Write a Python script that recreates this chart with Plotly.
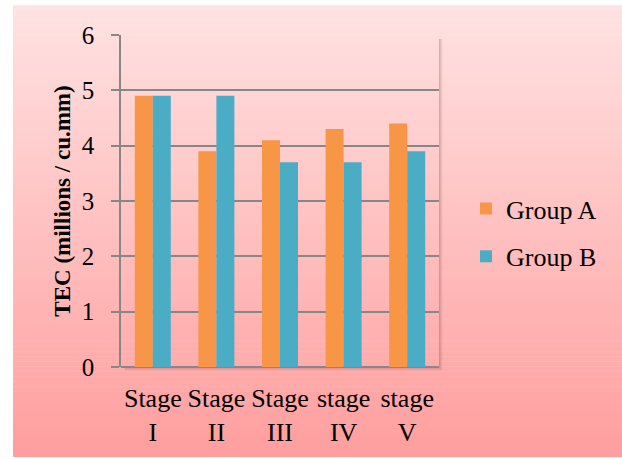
import plotly.graph_objects as go

# Chart data
stages = ["Stage<br>I", "Stage<br>II", "Stage<br>III", "stage<br>IV", "stage<br>V"]
group_a = [4.9, 3.9, 4.1, 4.3, 4.4]
group_b = [4.9, 4.9, 3.7, 3.7, 3.9]
y_ticks = [0, 1, 2, 3, 4, 5, 6]

W, H = 622, 459
# plot area in pixels
PL, PR, PT, PB = 121, 439, 35, 369

def px_x(x):
    return (x - PL) / (PR - PL)

def px_y(y):
    return (PB - y) / (PB - PT)

FONT = "Liberation Serif"
GRID = "#878787"

fig = go.Figure()
fig.add_trace(go.Bar(name="Group A", x=stages, y=group_a,
                     marker=dict(color="#F79646", line=dict(width=0)),
                     legendgroup="a"))
fig.add_trace(go.Bar(name="Group B", x=stages, y=group_b,
                     marker=dict(color="#4BACC6", line=dict(width=0)),
                     legendgroup="b"))

# pink vertical gradient behind the chart
shapes = []
fx0, fx1, fy0, fy1 = 13, W, 5, H
n = 90
top = (255, 226, 226)
bot = (255, 158, 158)
for i in range(n):
    t = i / (n - 1)
    c = tuple(round(top[k] + (bot[k] - top[k]) * t) for k in range(3))
    ya = fy0 + (fy1 - fy0) * i / n
    yb = fy0 + (fy1 - fy0) * (i + 1) / n + 0.6
    shapes.append(dict(type="rect", xref="paper", yref="paper", layer="below",
                       x0=px_x(fx0), x1=px_x(fx1), y0=px_y(yb), y1=px_y(ya),
                       fillcolor="rgb(%d,%d,%d)" % c, line=dict(width=0)))

# soft shadow along the right and bottom of the plot area
for off, a in [(1, 0.10), (2, 0.08), (3, 0.06), (4, 0.04)]:
    shapes.append(dict(type="rect", xref="paper", yref="paper", layer="below",
                       x0=px_x(PR), x1=px_x(PR + off), y0=px_y(PB + off), y1=px_y(PT + 4),
                       fillcolor="rgba(110,40,40,%.2f)" % a, line=dict(width=0)))
    shapes.append(dict(type="rect", xref="paper", yref="paper", layer="below",
                       x0=px_x(PL + 4), x1=px_x(PR), y0=px_y(PB + off), y1=px_y(PB + 1),
                       fillcolor="rgba(110,40,40,%.2f)" % a, line=dict(width=0)))

fig.update_layout(
    width=W, height=H,
    margin=dict(l=PL, r=W - PR, t=PT, b=H - PB, pad=0),
    paper_bgcolor="white",
    plot_bgcolor="rgba(0,0,0,0)",
    barmode="group",
    bargap=0.434,
    bargroupgap=0,
    font=dict(family=FONT, size=25, color="black"),
    shapes=shapes,
    showlegend=True,
    legend=dict(
        x=px_x(466), xanchor="left",
        y=px_y(186), yanchor="top",
        bgcolor="rgba(0,0,0,0)",
        font=dict(family=FONT, size=26, color="black"),
        tracegroupgap=11,
        traceorder="grouped",
    ),
    xaxis=dict(
        showgrid=False, showline=False, ticks="",
        tickfont=dict(family=FONT, size=26),
        ticklabelstandoff=13,
        fixedrange=True,
    ),
    yaxis=dict(
        range=[0, 6], tickvals=y_ticks, ticktext=[str(v) for v in y_ticks],
        showgrid=True, gridcolor=GRID, gridwidth=1.6,
        showline=True, linecolor=GRID, linewidth=1.6,
        ticks="outside", ticklen=8, tickcolor=GRID, tickwidth=1.6,
        zeroline=True, zerolinecolor=GRID, zerolinewidth=1.6,
        tickfont=dict(family=FONT, size=25),
        ticklabelstandoff=12,
        title=dict(text="<b>TEC (millions / cu.mm)</b>",
                   font=dict(family=FONT, size=23), standoff=5),
        fixedrange=True,
    ),
)

fig.write_html("out.html")
